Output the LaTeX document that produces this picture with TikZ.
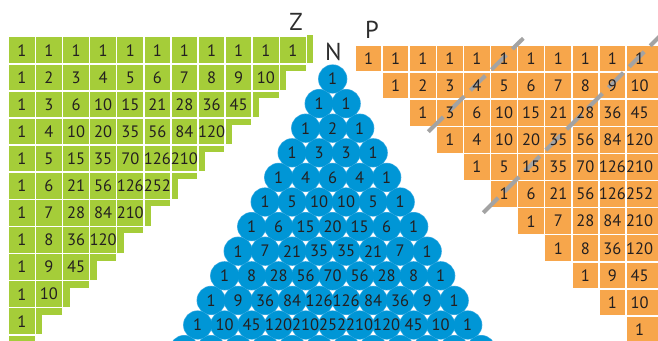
\documentclass[tikz,border=0pt]{standalone}
\usepackage{fontspec}
\setmainfont{PT Sans}
\definecolor{zgreen}{RGB}{165,205,57}
\definecolor{porange}{RGB}{247,166,75}
\definecolor{nblue}{RGB}{0,150,214}
\definecolor{nedge}{RGB}{70,175,228}
\definecolor{txt}{RGB}{35,31,32}
\definecolor{lbl}{RGB}{45,45,45}
\definecolor{dashgray}{RGB}{163,163,163}
\newcommand\triRows{{1,1,1,1,1,1,1,1,1,1,1},{1,2,3,4,5,6,7,8,9,10},{1,3,6,10,15,21,28,36,45},{1,4,10,20,35,56,84,120},{1,5,15,35,70,126,210},{1,6,21,56,126,252},{1,7,28,84,210},{1,8,36,120},{1,9,45},{1,10},{1}}
\newcommand\pasRows{{1},{1,1},{1,2,1},{1,3,3,1},{1,4,6,4,1},{1,5,10,10,5,1},{1,6,15,20,15,6,1},{1,7,21,35,35,21,7,1},{1,8,28,56,70,56,28,8,1},{1,9,36,84,126,126,84,36,9,1},{1,10,45,120,210,252,210,120,45,10,1}}
\begin{document}
\begin{tikzpicture}[x=1pt,y=-1pt,
  num/.style={inner sep=0pt,text=txt,font=\fontsize{16.5}{18}\selectfont},
  lab/.style={inner sep=0pt,text=lbl,font=\fontsize{24.5}{28}\selectfont},
  diag/.style={draw=dashgray,line width=4pt,dash pattern=on 21pt off 8.5pt}]
\useasboundingbox (0,0) rectangle (658,340);
\clip (0,0) rectangle (658,340);
% ---------------- green triangle (Z) ----------------
\foreach \i in {0,...,10}{
  % right strip
  \fill[zgreen] ({8.3+(11-\i)*27.1+0.75},{36.7+\i*27.1+0.75-2.25*(\i==0)}) rectangle ({8.3+(11-\i)*27.1+7},{36.7+(\i+1)*27.1-0.75});
  % bottom strip
  \fill[zgreen] ({8.3+(10-\i)*27.1+0.75},{36.7+(\i+1)*27.1+0.75}) rectangle ({8.3+(11-\i)*27.1-0.75},{36.7+(\i+1)*27.1+7});
}
\foreach \r [count=\i from 0] in \triRows {
  \foreach \v [count=\j from 0] in \r {
    \fill[zgreen] ({8.3+\j*27.1+0.75},{36.7+\i*27.1+0.75}) rectangle ++(25.6,25.6);
    \node[num] (g-\i-\j) at ({8.3+(\j+0.5)*27.1},{36.7+(\i+0.5)*27.1}) {\v};
  }
}
% ---------------- orange triangle (P) ----------------
\foreach \r [count=\i from 0] in \triRows {
  \foreach \v [count=\j from 0] in \r {
    \fill[porange] ({355+(\i+\j)*27.1+0.75},{45+\i*27.1+0.75}) rectangle ({355+(\i+\j+1)*27.1-0.75+9*(\i+\j==10)},{45+(\i+1)*27.1-0.75});
  }
}
\coordinate (dA1) at (428.3,131.7);
\coordinate (dA2) at (523.3,38.3);
\coordinate (dB1) at (483.3,212.7);
\coordinate (dB2) at (662,34);
\draw[diag] (dA1) -- (dA2);
\draw[diag] (dB1) -- (dB2);
\foreach \r [count=\i from 0] in \triRows {
  \foreach \v [count=\j from 0] in \r {
    \node[num] (o-\i-\j) at ({355+(\i+\j+0.5)*27.1},{45+(\i+0.5)*27.1}) {\v};
  }
}
% ---------------- blue triangle (N) ----------------
\foreach \n in {0,...,11}{
  \foreach \k in {0,...,\n}{
    \draw[nedge,line width=1.2pt] ({332.7+(\k-\n/2)*27},{79+\n*24.6}) circle[radius=14];
  }
}
\foreach \n in {0,...,11}{
  \foreach \k in {0,...,\n}{
    \fill[nblue] ({332.7+(\k-\n/2)*27},{79+\n*24.6}) circle[radius=14];
  }
}
\foreach \r [count=\n from 0] in \pasRows {
  \foreach \v [count=\k from 0] in \r {
    \node[num] (b-\n-\k) at ({332.7+(\k-\n/2)*27},{79+\n*24.6}) {\v};
  }
}
% ---------------- labels ----------------
\node[lab] (Z) at (296,22) {Z};
\node[lab] (N) at (333.3,52) {N};
\node[lab] (P) at (372,30) {P};
\end{tikzpicture}
\end{document}
